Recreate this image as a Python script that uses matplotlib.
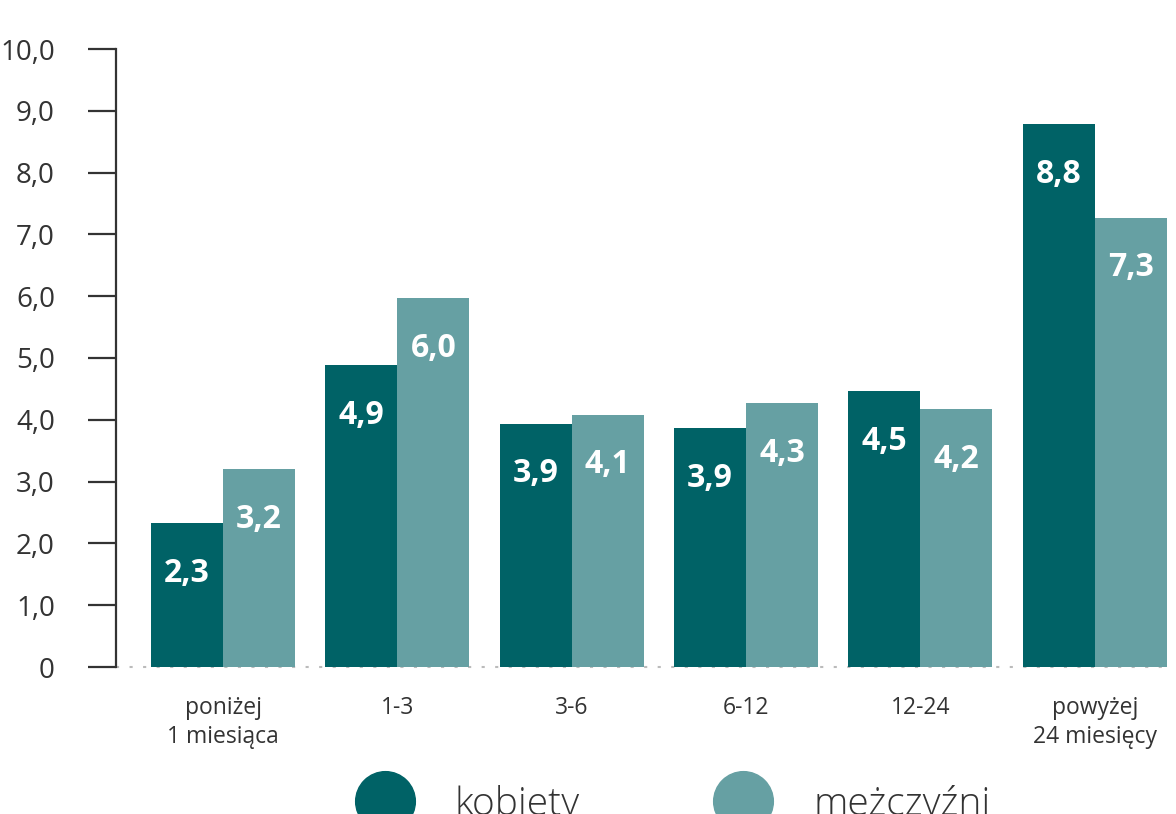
import numpy as np
import matplotlib
matplotlib.use("Agg")
import matplotlib.pyplot as plt
from matplotlib.lines import Line2D

plt.rcParams['font.family'] = ['Open Sans', 'DejaVu Sans']

# Data
categories = ['poniżej\n1 miesiąca', '1-3', '3-6', '6-12', '12-24', 'powyżej\n24 miesięcy']
kobiety = [2.33, 4.88, 3.94, 3.86, 4.46, 8.78]
mezczyzni = [3.20, 5.97, 4.08, 4.27, 4.17, 7.27]
series_names = ['kobiety', 'meżczyźni']
y_ticks = [0, 1, 2, 3, 4, 5, 6, 7, 8, 9, 10]

dark = '#006266'
light = '#66a0a3'
text_col = '#333333'

fig = plt.figure(figsize=(11.76, 8.14), dpi=100)
ax = fig.add_axes([116 / 1176, 147 / 814, 1052 / 1176, 618 / 814])

x = np.arange(len(categories))
w = 0.413
b1 = ax.bar(x - w / 2, kobiety, w, color=dark)
b2 = ax.bar(x + w / 2, mezczyzni, w, color=light)

# value labels inside the bars
for bars, vals in [(b1, kobiety), (b2, mezczyzni)]:
    for rect, v in zip(bars, vals):
        ax.text(rect.get_x() + rect.get_width() / 2, v - 0.81,
                f'{v:.1f}'.replace('.', ','), ha='center', va='center',
                color='white', fontsize=23, fontweight='bold')

ax.set_ylim(0, 10)
ax.set_xlim(-0.614, 5.42)
ax.set_yticks(y_ticks)
ax.set_yticklabels(['0' if t == 0 else f'{t:.1f}'.replace('.', ',') for t in y_ticks])
ax.set_xticks(x)
ax.set_xticklabels(categories, fontsize=16.5, color=text_col, linespacing=1.25)

ax.tick_params(axis='y', length=20, width=1.6, color=text_col, pad=24,
               labelsize=20, labelcolor=text_col)
ax.tick_params(axis='x', length=0, pad=21)

for s in ['top', 'right', 'bottom']:
    ax.spines[s].set_visible(False)
ax.spines['left'].set_color(text_col)
ax.spines['left'].set_linewidth(1.6)

# dotted baseline
ax.axhline(0, color='#bbbbbb', lw=1.5, linestyle=(0, (1.5, 5)), zorder=0, clip_on=False)

# legend at the bottom (partly cut off, as in the original)
handles = [Line2D([], [], marker='o', ls='', markersize=43, color=c) for c in [dark, light]]
fig.legend(handles, series_names, loc='center', bbox_to_anchor=(668 / 1176, 10 / 814),
           ncol=2, frameon=False, handletextpad=0.8, columnspacing=3.2,
           labelcolor=text_col, prop={'weight': 'light', 'size': 28})

fig.savefig('out.png', dpi=100)
